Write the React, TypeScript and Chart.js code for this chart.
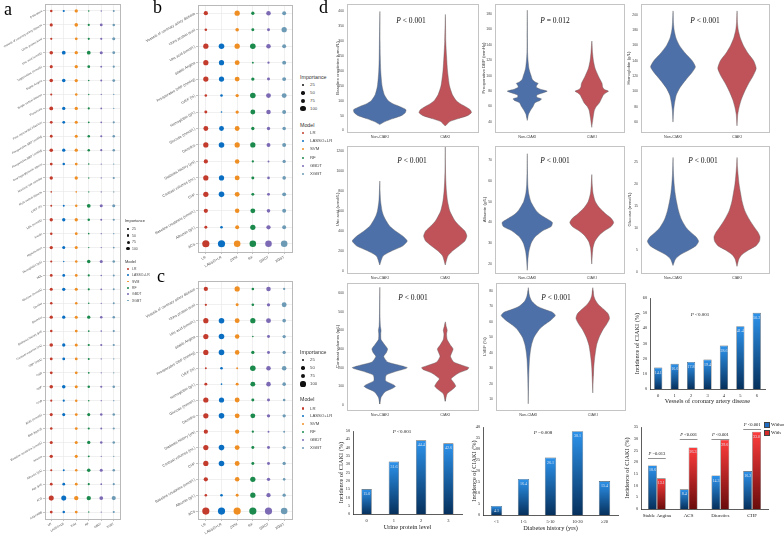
import React, { useEffect, useRef } from 'react';
import { Chart, registerables } from 'chart.js';
Chart.register(...registerables);

const SANS = '"Liberation Sans", Arial, sans-serif';
const SERIF = '"Liberation Serif", "Times New Roman", serif';

// ---------------- Bubble panels (a, b, c) ----------------
const MODELS = ['LR', 'LASSO+LR', 'SVM', 'RF', 'GBDT', 'XGBT'];
const MODEL_COLORS = ['#c23b2c', '#0a6fc2', '#ef8e23', '#1b8a4c', '#7d6ab5', '#6d9ab5'];

const FEATURES_A = [
  'β-blockers', 'Vessels of coronary artery disease', 'Urine protein level', 'Uric acid (umol/L)',
  'Triglycerides (mmol/L)', 'Stable Angina', 'Single-vessel disease', 'Proteinuria',
  'Prior myocardial infarction', 'Preoperative SBP (mmHg)', 'Preoperative DBP (mmHg)',
  'Oral hypoglycemic agents', 'Nonionic low-osmolar', 'Multi-vessel disease', 'LVEF (%)',
  'LDL (mmol/L)', 'Insulin', 'Hypertension', 'Hemoglobin (g/L)', 'HDL', 'Glucose (mmol/L)',
  'Gender', 'Diuretics', 'Diabetes history (yrs)', 'Contrast volumes (mL)', 'CRP (mg/L)', 'CKD',
  'CHF', 'CCB', 'BUN (mmol/L)', 'BMI (kg/m2)', 'Baseline creatinine (umol/L)', 'Anemia',
  'Albumin (g/L)', 'Age (yrs)', 'ACS', 'ACEI/ARB',
];
// columns: LR, LASSO+LR, SVM, RF, GBDT, XGBT
const IMPORTANCE_A = [
  [20, 15, 35, 8, 6, 12], [30, null, 40, 15, 25, 20], [15, null, 25, 15, 15, 30],
  [40, 45, 35, 45, 30, 25], [30, null, 35, 25, 12, 15], [40, 40, 35, 8, 12, 25],
  [15, null, 20, 6, 5, 5], [45, 35, 35, 15, 10, 5], [25, 25, 30, 10, 10, 15],
  [25, null, 30, 20, 15, 20], [40, 35, 35, 20, 15, 20], [25, 20, 25, 8, 5, 5],
  [35, null, 35, 6, 5, 15], [8, null, 8, 5, 5, 5], [12, 12, 20, 45, 30, 30],
  [35, 35, 35, 20, 12, 15], [20, null, 25, 8, 5, 5], [35, 30, 30, 6, 5, 10],
  [15, 6, 20, 40, 30, 20], [25, 25, 25, 15, 8, 12], [30, 35, 30, 15, 10, 12],
  [20, null, 20, 8, 5, 12], [35, 35, 30, 35, 20, 20], [20, null, 25, 10, 8, 15],
  [40, 35, 30, 15, 15, 15], [25, 25, 25, 12, 5, 5], [25, null, 25, 10, 5, 5],
  [40, 40, 30, 20, 15, 20], [15, 15, 20, 8, 5, 5], [30, 30, 25, 30, 20, 20],
  [20, null, 25, 15, 12, 15], [30, null, 30, 35, 20, 20], [35, null, 30, 12, 5, 5],
  [15, 12, 20, 40, 30, 20], [25, 25, 25, 15, 10, 15], [80, 80, 60, 60, 45, 55],
  [25, 20, 25, 6, 5, 15],
];

const FEATURES_BC = [
  'Vessels of coronary artery disease', 'Urine protein level', 'Uric acid (umol/L)', 'Stable Angina',
  'Preoperative DBP (mmHg)', 'LVEF (%)', 'Hemoglobin (g/L)', 'Glucose (mmol/L)', 'Diuretics',
  'Diabetes history (yrs)', 'Contrast volumes (mL)', 'CHF', 'Baseline creatinine (umol/L)',
  'Albumin (g/L)', 'ACS',
];
const IMPORTANCE_B = [
  [35, null, 53, 21, 40, 30], [13, null, 25, 17, 17, 53], [53, 60, 53, 60, 40, 30],
  [53, 53, 46, 7, 10, 30], [53, 53, 46, 21, 17, 30], [13, 13, 21, 60, 46, 46],
  [17, 5, 21, 46, 40, 30], [46, 46, 46, 21, 21, 25], [53, 60, 53, 53, 30, 30],
  [35, null, 40, 10, 7, 21], [53, 53, 46, 17, 13, 25], [53, 60, 46, 17, 17, 30],
  [35, null, 40, 46, 25, 30], [17, 13, 30, 53, 35, 30], [100, 100, 83, 83, 83, 83],
];
const IMPORTANCE_C = [
  [35, null, 53, 13, 40, 10], [10, null, 17, 13, 21, 46], [53, 60, 46, 53, 46, 25],
  [53, 60, 40, 5, 17, 21], [53, 60, 40, 21, 17, 21], [7, 13, 7, 60, 40, 40],
  [17, 5, 17, 46, 40, 25], [53, 53, 46, 17, 17, 13], [53, 60, 46, 46, 21, 21],
  [35, null, 35, 10, 7, 7], [53, 60, 46, 17, 17, 21], [53, 60, 46, 17, 17, 21],
  [35, null, 40, 53, 21, 13], [13, 13, 17, 53, 35, 21], [100, 100, 100, 100, 100, 83],
];
const IMPORTANCE_KEYS = [25, 50, 75, 100];

// ---------------- Violin panels ----------------
const VIOLIN_GROUPS = ['Non-CIAKI', 'CIAKI'];

const CREAT_TICKS = [0, 50, 100, 150, 200, 250, 300, 350, 400];
const CREAT_Y_NON = [20, 30, 40, 50, 60, 70, 80, 90, 100, 120, 150, 200, 250, 300, 400];
const CREAT_W_NON = [0, 0.08, 0.2, 0.33, 0.39, 0.4, 0.31, 0.2, 0.13, 0.07, 0.035, 0.015, 0.008, 0.005, 0.002];
const CREAT_Y_CI = [15, 30, 40, 50, 60, 70, 80, 90, 100, 120, 150, 200, 250, 300, 390];
const CREAT_W_CI = [0, 0.07, 0.2, 0.34, 0.4, 0.38, 0.31, 0.23, 0.17, 0.11, 0.065, 0.035, 0.02, 0.008, 0.002];
const CREAT_BOX_NON = [25, 60, 95, 150];
const CREAT_BOX_CI = [20, 62, 110, 180];

const DBP_TICKS = [40, 60, 80, 100, 120, 140, 160, 180];
const DBP_Y_NON = [42, 50, 55, 60, 65, 68, 70, 72, 75, 78, 80, 82, 85, 88, 90, 92, 95, 100, 105, 110, 120, 130, 150, 185];
const DBP_W_NON = [0, 0.02, 0.05, 0.09, 0.12, 0.2, 0.22, 0.15, 0.15, 0.25, 0.31, 0.22, 0.14, 0.15, 0.17, 0.12, 0.08, 0.06, 0.04, 0.025, 0.012, 0.005, 0.003, 0.001];
const DBP_Y_CI = [33, 45, 55, 60, 65, 70, 75, 78, 80, 82, 85, 90, 95, 100, 110, 120, 130, 145];
const DBP_W_CI = [0, 0.02, 0.04, 0.07, 0.12, 0.15, 0.18, 0.22, 0.26, 0.2, 0.17, 0.16, 0.13, 0.1, 0.05, 0.025, 0.012, 0.002];
const DBP_BOX_NON = [45, 70, 90, 115];
const DBP_BOX_CI = [45, 70, 90, 115];

const HB_TICKS = [60, 80, 100, 120, 140, 160, 180, 200];
const HB_Y_NON = [60, 75, 85, 95, 105, 115, 125, 132, 140, 150, 160, 170, 180, 190, 205];
const HB_W_NON = [0, 0.01, 0.025, 0.05, 0.11, 0.2, 0.3, 0.35, 0.3, 0.19, 0.1, 0.045, 0.018, 0.007, 0.001];
const HB_Y_CI = [55, 70, 80, 90, 100, 110, 120, 130, 140, 150, 160, 170, 180, 190, 205];
const HB_W_CI = [0, 0.012, 0.035, 0.07, 0.12, 0.18, 0.25, 0.3, 0.26, 0.17, 0.1, 0.05, 0.02, 0.007, 0.001];
const HB_BOX_NON = [90, 122, 145, 178];
const HB_BOX_CI = [75, 115, 143, 180];

const UA_TICKS = [0, 200, 400, 600, 800, 1000, 1200];
const UA_Y_NON = [60, 150, 200, 250, 300, 350, 400, 450, 500, 550, 600, 700, 800, 900];
const UA_W_NON = [0, 0.05, 0.18, 0.35, 0.42, 0.35, 0.24, 0.15, 0.1, 0.06, 0.035, 0.013, 0.005, 0.001];
const UA_Y_CI = [60, 150, 200, 250, 300, 350, 400, 450, 500, 600, 700, 800, 900, 1000, 1100, 1250];
const UA_W_CI = [0, 0.04, 0.11, 0.21, 0.3, 0.33, 0.3, 0.22, 0.15, 0.07, 0.035, 0.018, 0.009, 0.004, 0.002, 0.001];
const UA_BOX_NON = [120, 270, 380, 540];
const UA_BOX_CI = [130, 300, 450, 680];

const ALB_TICKS = [20, 30, 40, 50, 60, 70];
const ALB_Y_NON = [17, 22, 26, 30, 33, 36, 38, 40, 42, 44, 46, 48, 50, 54, 58, 65, 73];
const ALB_W_NON = [0, 0.01, 0.025, 0.06, 0.12, 0.24, 0.37, 0.39, 0.29, 0.19, 0.13, 0.09, 0.055, 0.022, 0.009, 0.003, 0.001];
const ALB_Y_CI = [20, 25, 28, 31, 34, 36, 38, 40, 42, 44, 47, 50, 54, 58, 63];
const ALB_W_CI = [0, 0.01, 0.02, 0.05, 0.12, 0.2, 0.3, 0.34, 0.3, 0.22, 0.12, 0.055, 0.02, 0.008, 0.001];
const ALB_BOX_NON = [27, 36, 42, 52];
const ALB_BOX_CI = [26, 35, 42, 51];

const GLU_TICKS = [0, 5, 10, 15, 20, 25];
const GLU_Y_NON = [1.5, 3, 4, 5, 6, 7, 8, 9, 10, 12, 14, 16, 18, 20, 22, 24, 26];
const GLU_W_NON = [0, 0.04, 0.12, 0.25, 0.36, 0.4, 0.36, 0.28, 0.21, 0.13, 0.085, 0.055, 0.032, 0.018, 0.009, 0.004, 0.001];
const GLU_Y_CI = [1.3, 3, 4, 5, 6, 7, 8, 9, 10, 12, 14, 16, 18, 20, 22, 24, 26];
const GLU_W_CI = [0, 0.03, 0.08, 0.18, 0.3, 0.35, 0.36, 0.33, 0.28, 0.19, 0.12, 0.08, 0.055, 0.032, 0.018, 0.007, 0.001];
const GLU_BOX_NON = [3, 6.5, 11, 17];
const GLU_BOX_CI = [3, 7, 12, 19];

const CV_TICKS = [0, 100, 200, 300, 400, 500, 600];
const CV_Y_NON = [5, 40, 70, 90, 100, 110, 130, 160, 180, 195, 200, 210, 230, 260, 280, 300, 320, 350, 380, 400, 420, 460, 520, 630];
const CV_W_NON = [0, 0.02, 0.08, 0.2, 0.24, 0.2, 0.09, 0.1, 0.25, 0.4, 0.42, 0.33, 0.12, 0.06, 0.1, 0.12, 0.08, 0.02, 0.015, 0.02, 0.01, 0.005, 0.003, 0.001];
const CV_Y_CI = [20, 60, 80, 100, 120, 140, 170, 190, 200, 210, 230, 260, 280, 300, 320, 350, 380, 400, 420, 445];
const CV_W_CI = [0, 0.03, 0.1, 0.16, 0.13, 0.09, 0.2, 0.34, 0.36, 0.28, 0.13, 0.08, 0.1, 0.12, 0.08, 0.03, 0.02, 0.03, 0.015, 0.001];
const CV_BOX_NON = [5, 110, 220, 380];
const CV_BOX_CI = [20, 110, 230, 400];

const LVEF_TICKS = [10, 20, 30, 40, 50, 60, 70, 80];
const LVEF_Y_NON = [7, 15, 25, 35, 40, 45, 50, 55, 58, 61, 64, 66, 68, 70, 73, 76, 79, 82];
const LVEF_W_NON = [0, 0.003, 0.008, 0.018, 0.03, 0.05, 0.09, 0.17, 0.25, 0.35, 0.42, 0.38, 0.25, 0.14, 0.06, 0.025, 0.008, 0.001];
const LVEF_Y_CI = [14, 20, 25, 30, 35, 40, 45, 50, 55, 58, 62, 65, 68, 71, 74, 77, 82];
const LVEF_W_CI = [0, 0.005, 0.01, 0.015, 0.025, 0.04, 0.06, 0.1, 0.16, 0.21, 0.26, 0.24, 0.17, 0.09, 0.04, 0.015, 0.001];
const LVEF_BOX_NON = [38, 55, 66, 80];
const LVEF_BOX_CI = [25, 48, 64, 80];

// ---------------- Bar panels ----------------
const VESSEL_CATS = ['0', '1', '2', '3', '4', '5', '6'];
const VESSEL_RATES = [14.1, 16.6, 17.8, 19.4, 28.6, 41.4, 50.2];
const URINE_CATS = ['0', '1', '2', '3'];
const URINE_RATES = [15.0, 31.6, 44.4, 42.6];
const DIAB_CATS = ['<1', '1-5', '5-10', '10-20', '≥20'];
const DIAB_RATES = [4.1, 16.4, 26.1, 38.1, 15.4];
const GROUP_CATS = ['Stable Angina', 'ACS', 'Diuretics', 'CHF'];
const WITHOUT_RATES = [18.6, 8.4, 14.3, 16.2];
const WITH_RATES = [13.1, 26.3, 29.6, 33.0];
const BRACKET_LEVELS = [21.8, 29.9, 29.9, 34.2];
const GROUP_P = ['=0.013', '<0.001', '<0.001', '<0.001'];

// ---------------- helpers ----------------
type Geo = { left: number; top: number; width: number; height: number; ml: number; mt: number; mr: number; mb: number };
function geo(area: number[], ml: number, mt: number, mr: number, mb: number): Geo {
  return { left: area[0] - ml, top: area[1] - mt, width: area[2] - area[0] + ml + mr, height: area[3] - area[1] + mt + mb, ml, mt, mr, mb };
}
function zeroPad(s: any) { s.paddingLeft = 0; s.paddingRight = 0; s.paddingTop = 0; s.paddingBottom = 0; }
const fixX = (mb: number) => (s: any) => { s.height = mb; zeroPad(s); };
const fixY = (ml: number) => (s: any) => { s.width = ml; zeroPad(s); };
const fixedTicks = (vals: number[]) => (s: any) => { s.ticks = vals.map((v) => ({ value: v })); };

const framePlugin = {
  id: 'frame',
  afterDraw(chart: any, _a: any, opts: any) {
    if (!opts || !opts.color) return;
    const { ctx, chartArea: a } = chart;
    ctx.save();
    ctx.strokeStyle = opts.color;
    ctx.lineWidth = opts.width || 1;
    ctx.strokeRect(Math.round(a.left) + 0.5, Math.round(a.top) + 0.5, Math.round(a.right - a.left), Math.round(a.bottom - a.top));
    ctx.restore();
  },
};

function baseOptions(g: Geo) {
  return {
    responsive: false,
    animation: false,
    events: [],
    layout: { padding: { left: 0, top: g.mt, right: g.mr, bottom: 0 } },
  };
}

function bubbleConfig(g: Geo, features: string[], imp: (number | null)[][], rmax: number, fs: number) {
  const grid = { color: '#e6e6e6', lineWidth: 0.6, tickLength: 2, tickColor: '#9a9a9a' };
  return {
    type: 'bubble',
    data: {
      datasets: MODELS.map((m, j) => ({
        label: m,
        data: features.flatMap((f, i) =>
          imp[i][j] == null ? [] : [{ x: m, y: f, r: rmax * Math.sqrt((imp[i][j] as number) / 100) }]),
        backgroundColor: MODEL_COLORS[j],
        borderWidth: 0,
      })),
    },
    options: {
      ...baseOptions(g),
      plugins: { legend: { display: false }, tooltip: { enabled: false }, frame: { color: '#b9b9b9', width: 1 } },
      scales: {
        x: {
          type: 'category', labels: MODELS, offset: true, grid, border: { display: false },
          ticks: { autoSkip: false, minRotation: 30, maxRotation: 30, font: { family: SANS, size: fs }, color: '#555', padding: 1 },
          afterFit: fixX(g.mb),
        },
        y: {
          type: 'category', labels: features, offset: true, grid, border: { display: false },
          ticks: { autoSkip: false, minRotation: 30, maxRotation: 30, font: { family: SANS, size: fs }, color: '#555', padding: 1 },
          afterFit: fixY(g.ml),
        },
      },
    },
    plugins: [framePlugin],
  };
}

const BLUE = '#4e70a9';
const RED = '#c0525a';
function violinShape(pos: number, ys: number[], ws: number[]) {
  const right = ys.map((y, i) => ({ x: pos + ws[i], y }));
  const left: { x: number; y: number }[] = [];
  for (let i = ys.length - 2; i >= 0; i--) left.push({ x: pos - ws[i], y: ys[i] });
  return right.concat(left);
}
const shapeDs = (pos: number, ys: number[], ws: number[], color: string) => ({
  data: violinShape(pos, ys, ws), showLine: true, fill: 'shape', backgroundColor: color,
  borderColor: 'rgba(95,95,95,0.6)', borderWidth: 0.7, pointRadius: 0, tension: 0.2,
});
const segDs = (pos: number, a: number, b: number, w: number) => ({
  data: [{ x: pos, y: a }, { x: pos, y: b }], showLine: true, fill: false,
  borderColor: '#2e2e2e', borderWidth: w, pointRadius: 0,
});

type ViolinSpec = {
  title: string; min: number; max: number; ticks: number[];
  yNon: number[]; wNon: number[]; yCi: number[]; wCi: number[]; boxNon: number[]; boxCi: number[];
};

function violinConfig(g: Geo, s: ViolinSpec) {
  return {
    type: 'scatter',
    data: {
      datasets: [
        shapeDs(0, s.yNon, s.wNon, BLUE),
        shapeDs(1, s.yCi, s.wCi, RED),
        segDs(0, s.boxNon[0], s.boxNon[3], 0.6),
        segDs(1, s.boxCi[0], s.boxCi[3], 0.6),
        segDs(0, s.boxNon[1], s.boxNon[2], 1.6),
        segDs(1, s.boxCi[1], s.boxCi[2], 1.6),
      ],
    },
    options: {
      ...baseOptions(g),
      plugins: { legend: { display: false }, tooltip: { enabled: false }, frame: { color: '#c4c4c4', width: 1 } },
      scales: {
        x: {
          type: 'linear', min: -0.5, max: 1.5, grid: { display: false, drawTicks: false }, border: { display: false },
          afterBuildTicks: fixedTicks([0, 1]),
          ticks: { callback: (v: number) => VIOLIN_GROUPS[v], font: { family: SANS, size: 3.8 }, color: '#444', padding: 3 },
          afterFit: fixX(g.mb),
        },
        y: {
          type: 'linear', min: s.min, max: s.max, grid: { display: false, drawTicks: false }, border: { display: false },
          afterBuildTicks: fixedTicks(s.ticks),
          ticks: { callback: (v: number) => String(v), font: { family: SANS, size: 3.4 }, color: '#444', padding: 3 },
          title: { display: true, text: s.title, font: { family: SANS, size: 4.3 }, color: '#444', padding: 0 },
          afterFit: fixY(g.ml),
        },
      },
    },
    plugins: [framePlugin],
  };
}

function barGradient(top: string, bottom: string) {
  return (c: any) => {
    const chart = c.chart;
    const y = chart.scales && chart.scales.y;
    if (!y || typeof c.raw !== 'number' || !chart.chartArea) return top;
    const yt = y.getPixelForValue(c.raw);
    const yb = y.getPixelForValue(0);
    if (!isFinite(yt) || !isFinite(yb)) return top;
    const gr = chart.ctx.createLinearGradient(0, yt, 0, yb);
    gr.addColorStop(0, top);
    gr.addColorStop(1, bottom);
    return gr;
  };
}

const barLabelPlugin = {
  id: 'barLabels',
  afterDatasetsDraw(chart: any) {
    const ctx = chart.ctx;
    chart.data.datasets.forEach((ds: any, di: number) => {
      const meta = chart.getDatasetMeta(di);
      meta.data.forEach((el: any, i: number) => {
        const v = ds.data[i];
        ctx.save();
        ctx.font = `4px ${SERIF}`;
        ctx.fillStyle = '#dfe6f2';
        ctx.textAlign = 'center';
        ctx.textBaseline = 'middle';
        ctx.fillText(v.toFixed(1), el.x, el.y + 5);
        ctx.restore();
      });
    });
  },
};

const bracketPlugin = {
  id: 'brackets',
  afterDatasetsDraw(chart: any) {
    const ctx = chart.ctx;
    const y = chart.scales.y;
    const m0 = chart.getDatasetMeta(0);
    const m1 = chart.getDatasetMeta(1);
    BRACKET_LEVELS.forEach((lv, i) => {
      const b0 = m0.data[i];
      const b1 = m1.data[i];
      const x0 = b0.x - b0.width / 2;
      const x1 = b1.x + b1.width / 2;
      const py = Math.round(y.getPixelForValue(lv)) + 0.5;
      ctx.save();
      ctx.strokeStyle = '#777';
      ctx.lineWidth = 0.8;
      ctx.beginPath();
      ctx.moveTo(x0, py);
      ctx.lineTo(x1, py);
      ctx.stroke();
      const cx = (x0 + x1) / 2;
      ctx.textBaseline = 'middle';
      ctx.fillStyle = '#111';
      ctx.font = `italic 4.6px ${SERIF}`;
      const wP = ctx.measureText('P ').width;
      ctx.font = `4.6px ${SERIF}`;
      const wR = ctx.measureText(GROUP_P[i]).width;
      const sx = cx - (wP + wR) / 2;
      ctx.font = `italic 4.6px ${SERIF}`;
      ctx.textAlign = 'left';
      ctx.fillText('P ', sx, py - 4.5);
      ctx.font = `4.6px ${SERIF}`;
      ctx.fillText(GROUP_P[i], sx + wP, py - 4.5);
      ctx.restore();
    });
  },
};

function barConfig(g: Geo, labels: string[], datasets: any[], yMax: number, step: number, xTitle: string | null, xfs: number, extra: any[]) {
  return {
    type: 'bar',
    data: { labels, datasets },
    options: {
      ...baseOptions(g),
      plugins: { legend: { display: false }, tooltip: { enabled: false } },
      scales: {
        x: {
          grid: { display: false, drawTicks: false }, border: { display: true, color: '#333', width: 0.8 },
          ticks: { font: { family: SERIF, size: xfs }, color: '#222', padding: 4, autoSkip: false, maxRotation: 0, minRotation: 0 },
          title: { display: !!xTitle, text: xTitle || '', font: { family: SERIF, size: 6.3 }, color: '#222', padding: 0 },
          afterFit: fixX(g.mb),
        },
        y: {
          min: 0, max: yMax, grid: { display: false, drawTicks: false }, border: { display: true, color: '#333', width: 0.8 },
          ticks: { stepSize: step, font: { family: SERIF, size: 4.2 }, color: '#222', padding: 3 },
          title: { display: true, text: 'Incidence of CIAKI (%)', font: { family: SERIF, size: 6.3 }, color: '#222', padding: 0 },
          afterFit: fixY(g.ml),
        },
      },
    },
    plugins: [barLabelPlugin, ...extra],
  };
}

const BAR_BLUE_TOP = '#2d93ec';
const BAR_BLUE_BOTTOM = '#06305c';
const BAR_RED_TOP = '#ff3d3d';
const BAR_RED_BOTTOM = '#6a0c0c';
const singleBar = (data: number[], pct: number) => [{
  data, backgroundColor: barGradient(BAR_BLUE_TOP, BAR_BLUE_BOTTOM), borderColor: '#5a5a5a', borderWidth: 0.6,
  barPercentage: pct, categoryPercentage: 1,
}];

// ---------------- chart list ----------------
const gA = geo([45, 4, 120, 519], 45, 4, 4, 17);
const gB = geo([198, 5, 292, 252], 68, 5, 4, 18);
const gC = geo([198, 281, 292, 519], 68, 19, 4, 17);

const V_SPECS: [number[], number, ViolinSpec][] = [
  [[347, 4, 478, 132], 12, { title: 'Baseline creatinine (umol/L)', min: -5, max: 425, ticks: CREAT_TICKS, yNon: CREAT_Y_NON, wNon: CREAT_W_NON, yCi: CREAT_Y_CI, wCi: CREAT_W_CI, boxNon: CREAT_BOX_NON, boxCi: CREAT_BOX_CI }],
  [[495, 4, 624, 132], 14, { title: 'Preoperative DBP (mmHg)', min: 27, max: 193, ticks: DBP_TICKS, yNon: DBP_Y_NON, wNon: DBP_W_NON, yCi: DBP_Y_CI, wCi: DBP_W_CI, boxNon: DBP_BOX_NON, boxCi: DBP_BOX_CI }],
  [[641, 4, 769, 132], 15, { title: 'Hemoglobin (g/L)', min: 47, max: 214, ticks: HB_TICKS, yNon: HB_Y_NON, wNon: HB_W_NON, yCi: HB_Y_CI, wCi: HB_W_CI, boxNon: HB_BOX_NON, boxCi: HB_BOX_CI }],
  [[347, 146, 478, 273], 12, { title: 'Uric acid (umol/L)', min: -20, max: 1250, ticks: UA_TICKS, yNon: UA_Y_NON, wNon: UA_W_NON, yCi: UA_Y_CI, wCi: UA_W_CI, boxNon: UA_BOX_NON, boxCi: UA_BOX_CI }],
  [[495, 146, 624, 273], 13, { title: 'Albumin (g/L)', min: 15.7, max: 76.7, ticks: ALB_TICKS, yNon: ALB_Y_NON, wNon: ALB_W_NON, yCi: ALB_Y_CI, wCi: ALB_W_CI, boxNon: ALB_BOX_NON, boxCi: ALB_BOX_CI }],
  [[641, 146, 769, 273], 14, { title: 'Glucose (mmol/L)', min: -0.2, max: 28.6, ticks: GLU_TICKS, yNon: GLU_Y_NON, wNon: GLU_W_NON, yCi: GLU_Y_CI, wCi: GLU_W_CI, boxNon: GLU_BOX_NON, boxCi: GLU_BOX_CI }],
  [[347, 283, 478, 410], 12, { title: 'Contrast volumes (mL)', min: -27, max: 653, ticks: CV_TICKS, yNon: CV_Y_NON, wNon: CV_W_NON, yCi: CV_Y_CI, wCi: CV_W_CI, boxNon: CV_BOX_NON, boxCi: CV_BOX_CI }],
  [[496, 283, 625, 410], 14, { title: 'LVEF (%)', min: 3, max: 85, ticks: LVEF_TICKS, yNon: LVEF_Y_NON, wNon: LVEF_W_NON, yCi: LVEF_Y_CI, wCi: LVEF_W_CI, boxNon: LVEF_BOX_NON, boxCi: LVEF_BOX_CI }],
];

const gB1 = geo([650, 298, 765, 389], 16, 4, 4, 16);
const gB2 = geo([353, 431, 462, 514], 15, 4, 4, 17);
const gB3 = geo([483, 427, 618, 515], 12, 4, 4, 17);
const gB4 = geo([641, 427, 768, 509], 17, 4, 2, 27);

const CHARTS: { g: Geo; make: () => any }[] = [
  { g: gA, make: () => bubbleConfig(gA, FEATURES_A, IMPORTANCE_A, 2.8, 2.9) },
  { g: gB, make: () => bubbleConfig(gB, FEATURES_BC, IMPORTANCE_B, 3.6, 3.7) },
  { g: gC, make: () => bubbleConfig(gC, FEATURES_BC, IMPORTANCE_C, 3.6, 3.7) },
  ...V_SPECS.map(([area, ml, spec]) => {
    const g = geo(area, ml, 4, 4, 12);
    return { g, make: () => violinConfig(g, spec) };
  }),
  { g: gB1, make: () => barConfig(gB1, VESSEL_CATS, singleBar(VESSEL_RATES, 0.5), 60, 10, 'Vessels of coronary artery disease', 4.5, []) },
  { g: gB2, make: () => barConfig(gB2, URINE_CATS, singleBar(URINE_RATES, 0.38), 50, 5, 'Urine protein level', 4.5, []) },
  { g: gB3, make: () => barConfig(gB3, DIAB_CATS, singleBar(DIAB_RATES, 0.42), 40, 5, 'Diabetes history (yrs)', 4.5, []) },
  {
    g: gB4,
    make: () => barConfig(gB4, GROUP_CATS, [
      { label: 'Without', data: WITHOUT_RATES, backgroundColor: barGradient(BAR_BLUE_TOP, BAR_BLUE_BOTTOM), borderColor: '#5a5a5a', borderWidth: 0.6, barPercentage: 1, categoryPercentage: 0.56 },
      { label: 'With', data: WITH_RATES, backgroundColor: barGradient(BAR_RED_TOP, BAR_RED_BOTTOM), borderColor: '#5a5a5a', borderWidth: 0.6, barPercentage: 1, categoryPercentage: 0.56 },
    ], 35, 5, null, 5, [bracketPlugin]),
  },
];

// ---------------- components ----------------
function ChartCanvas({ g, make }: { g: Geo; make: () => any }) {
  const ref = useRef<HTMLCanvasElement>(null);
  useEffect(() => {
    const chart = new Chart(ref.current as HTMLCanvasElement, make());
    return () => chart.destroy();
  }, []);
  return (
    <canvas ref={ref} width={g.width} height={g.height}
      style={{ position: 'absolute', left: g.left, top: g.top, width: g.width, height: g.height }} />
  );
}

const SC = 4;
function T({ x, y, size, family = SANS, anchor = 'left', color = '#222', style = {}, children }: any) {
  const tx = anchor === 'center' ? '-50%' : anchor === 'right' ? '-100%' : '0';
  return (
    <div style={{ position: 'absolute', left: x, top: y, width: 0, height: 0 }}>
      <div style={{
        position: 'absolute', left: 0, top: 0, fontFamily: family, fontSize: size * SC, lineHeight: 1,
        whiteSpace: 'nowrap', color, transformOrigin: '0 0', transform: `scale(${1 / SC}) translate(${tx}, -50%)`, ...style,
      }}>{children}</div>
    </div>
  );
}

function Dot({ x, y, r, color }: any) {
  return <div style={{ position: 'absolute', left: x - r, top: y - r, width: 2 * r, height: 2 * r, borderRadius: '50%', background: color }} />;
}

function BubbleLegend({ x, dotX, textX, impY, impRows, radii, modelY, modelRows, modelR, tfs, fs }: any) {
  return (
    <>
      <T x={x} y={impY} size={tfs} color="#333">Importance</T>
      {IMPORTANCE_KEYS.map((k, i) => (
        <React.Fragment key={'i' + k}>
          <Dot x={dotX} y={impRows[i]} r={radii[i]} color="#111" />
          <T x={textX} y={impRows[i]} size={fs} color="#444">{k}</T>
        </React.Fragment>
      ))}
      <T x={x} y={modelY} size={tfs} color="#333">Model</T>
      {MODELS.map((m, i) => (
        <React.Fragment key={'m' + m}>
          <Dot x={dotX} y={modelRows[i]} r={modelR} color={MODEL_COLORS[i]} />
          <T x={textX} y={modelRows[i]} size={fs} color="#444">{m}</T>
        </React.Fragment>
      ))}
    </>
  );
}

function PText({ x, y, rest, size = 7.5 }: any) {
  return <T x={x} y={y} size={size} family={SERIF} anchor="center" color="#111"><i>P</i>{' ' + rest}</T>;
}

const VIOLIN_P = [
  [411, 20, '< 0.001'], [555, 20, '= 0.012'], [705, 20, '< 0.001'],
  [412, 160, '< 0.001'], [555, 160, '< 0.001'], [703, 160, '< 0.001'],
  [413, 297, '< 0.001'], [556, 297, '< 0.001'],
];

export default function App() {
  return (
    <div style={{ position: 'absolute', left: 0, top: 0, width: 784, height: 536, background: '#fff', overflow: 'hidden' }}>
      {CHARTS.map((c, i) => <ChartCanvas key={i} g={c.g} make={c.make} />)}

      <T x={4} y={9} size={18} family={SERIF} color="#000">a</T>
      <T x={153} y={7} size={18} family={SERIF} color="#000">b</T>
      <T x={157} y={276} size={18} family={SERIF} color="#000">c</T>
      <T x={319} y={7} size={18} family={SERIF} color="#000">d</T>

      <BubbleLegend x={125} dotX={128} textX={132} impY={221} impRows={[229, 235.5, 242, 248.5]} radii={[0.9, 1.2, 1.5, 1.8]}
        modelY={261.5} modelRows={[269, 275.3, 281.6, 287.9, 294.2, 300.5]} modelR={0.9} tfs={4} fs={3.4} />
      <BubbleLegend x={300} dotX={303} textX={310} impY={77} impRows={[85, 93, 101, 108.5]} radii={[1.2, 1.7, 2.2, 2.6]}
        modelY={125} modelRows={[133, 141.2, 149.4, 157.6, 165.8, 174]} modelR={1.1} tfs={5.3} fs={4.3} />
      <BubbleLegend x={300} dotX={303} textX={310} impY={352} impRows={[360, 368, 376, 384]} radii={[1.2, 1.7, 2.2, 2.6]}
        modelY={399} modelRows={[408.5, 416.4, 424.3, 432.2, 440.1, 448]} modelR={1.1} tfs={5.3} fs={4.3} />

      {VIOLIN_P.map(([x, y, r], i) => <PText key={'vp' + i} x={x} y={y} rest={r} />)}

      <PText x={700} y={314} rest="<0.001" size={5} />
      <PText x={402} y={431} rest="<0.001" size={5} />
      <PText x={543} y={432} rest="=0.008" size={5} />

      <div style={{ position: 'absolute', left: 764, top: 422, width: 4, height: 4, background: '#1f6cc0', border: '0.5px solid #444' }} />
      <T x={771} y={424} size={5} family={SERIF} color="#222">Without</T>
      <div style={{ position: 'absolute', left: 764, top: 430, width: 4, height: 4, background: '#d42a2a', border: '0.5px solid #444' }} />
      <T x={771} y={432} size={5} family={SERIF} color="#222">With</T>
    </div>
  );
}
